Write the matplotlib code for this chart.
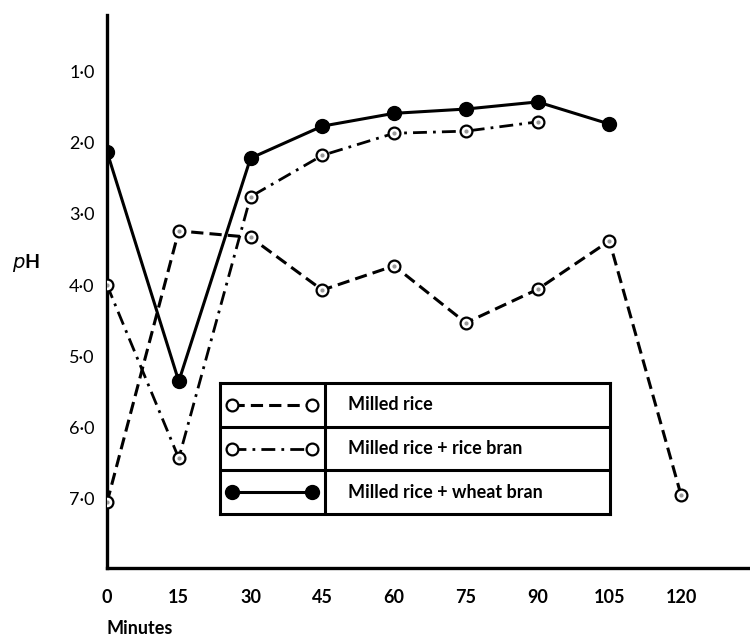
import matplotlib
matplotlib.use('Agg')
import matplotlib.pyplot as plt

# ---- data ----
minutes = [0, 15, 30, 45, 60, 75, 90, 105, 120]
milled_rice = [7.05, 3.24, 3.33, 4.07, 3.73, 4.53, 4.06, 3.38, 6.95]

rice_bran_minutes = [0, 15, 30, 45, 60, 75, 90]
rice_bran = [4.0, 6.43, 2.76, 2.18, 1.87, 1.84, 1.71]

wheat_bran_minutes = [0, 15, 30, 45, 60, 75, 90, 105]
wheat_bran = [2.13, 5.35, 2.22, 1.77, 1.59, 1.53, 1.43, 1.74]

y_ticks = [1, 2, 3, 4, 5, 6, 7]
y_tick_labels = ['1·0', '2·0', '3·0', '4·0', '5·0', '6·0', '7·0']
x_ticks = [0, 15, 30, 45, 60, 75, 90, 105, 120]
x_tick_labels = ['0', '15', '30', '45', '60', '75', '90', '105', '120']
series_names = ['Milled rice', 'Milled rice + rice bran', 'Milled rice + wheat bran']

FONT = ['Lato', 'DejaVu Sans']
plt.rcParams['font.family'] = FONT

fig = plt.figure(figsize=(7.5, 6.37), dpi=100)
ax = fig.add_axes([0.1427, 0.1083, 0.8573, 0.8682])

open_style = dict(marker='o', markersize=8.5, markerfacecolor='white',
                  markeredgecolor='black', markeredgewidth=1.6, color='black')
styles = [
    dict(linestyle=(0, (4, 2)), linewidth=2.2, **open_style),
    dict(linestyle=(0, (5, 2.2, 1, 2.2)), linewidth=2.0, **open_style),
    dict(linestyle='-', linewidth=2.2, marker='o', markersize=10,
         markerfacecolor='black', markeredgecolor='black', color='black'),
]

ax.plot(minutes, milled_rice, zorder=3, **styles[0])
ax.plot(rice_bran_minutes, rice_bran, zorder=3, **styles[1])
ax.plot(wheat_bran_minutes, wheat_bran, zorder=4, **styles[2])
# inner dots of the open markers
ax.plot(minutes, milled_rice, linestyle='none', marker='o', markersize=2,
        color='#999999', zorder=5)
ax.plot(rice_bran_minutes, rice_bran, linestyle='none', marker='o', markersize=2,
        color='#999999', zorder=5)

ax.set_xlim(0, 134.4)
ax.set_ylim(7.97, 0.21)
ax.set_xticks(x_ticks)
ax.set_xticklabels(x_tick_labels)
ax.set_yticks(y_ticks)
ax.set_yticklabels(y_tick_labels)
ax.tick_params(axis='both', length=0, labelsize=13)
ax.tick_params(axis='y', pad=9)
ax.tick_params(axis='x', pad=15)
for lab in ax.get_xticklabels() + ax.get_yticklabels():
    lab.set_fontweight('bold')

for s in ['top', 'right']:
    ax.spines[s].set_visible(False)
for s in ['left', 'bottom']:
    ax.spines[s].set_linewidth(2.4)
ax.spines['left'].set_position(('data', 0))

fig.text(107 / 750, 1 - 628 / 637, 'Minutes', fontsize=13, fontweight='bold',
         ha='left', va='center')
fig.text(26 / 750, 1 - 263 / 637, r'$\mathit{p}$H', fontsize=14, fontweight='bold',
         ha='center', va='center')

# ---- table-style legend ----
leg = ax.inset_axes([0.1757, 0.0976, 0.6066, 0.2369])
leg.set_xlim(0, 1)
leg.set_ylim(0, 1)
leg.set_xticks([])
leg.set_yticks([])
for s in leg.spines.values():
    s.set_linewidth(2.2)
leg.axvline(0.269, color='black', linewidth=2.2)
leg.axhline(1 / 3, color='black', linewidth=2.2)
leg.axhline(2 / 3, color='black', linewidth=2.2)
row_centers = [5 / 6, 3 / 6, 1 / 6]
for name, st, yc in zip(series_names, styles, row_centers):
    leg.plot([0.03, 0.235], [yc, yc], **st)
    leg.text(0.328, yc, name, fontsize=13, fontweight='bold', va='center', ha='left')

fig.savefig('out.png', dpi=100)
